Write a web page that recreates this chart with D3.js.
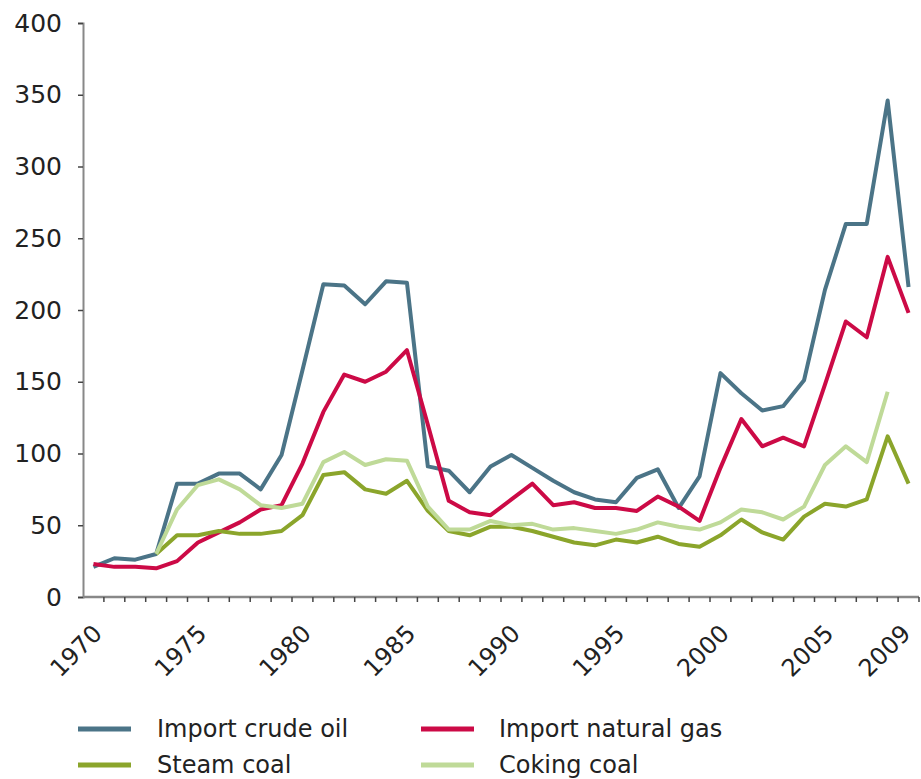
<!DOCTYPE html>
<html>
<head>
<meta charset="utf-8">
<script src="https://cdn.jsdelivr.net/npm/d3@7/dist/d3.min.js"></script>
<style>
  html, body { margin: 0; padding: 0; background: #fff; }
  svg { display: block; }
  text { font-family: "DejaVu Sans", Verdana, sans-serif; fill: #222; }
</style>
</head>
<body>
<svg id="chart" width="921" height="779"></svg>
<script>
const years = d3.range(1970, 2010);
const tickYears = [1970, 1975, 1980, 1985, 1990, 1995, 2000, 2005, 2009];
const yTicks = [0, 50, 100, 150, 200, 250, 300, 350, 400];

const crudeOil = [21, 27, 26, 30, 79, 79, 86, 86, 75, 99,
  158, 218, 217, 204, 220, 219, 91, 88, 73, 91,
  99, 90, 81, 73, 68, 66, 83, 89, 62, 84,
  156, 142, 130, 133, 151, 214, 260, 260, 346, 216];
const naturalGas = [23, 21, 21, 20, 25, 38, 45, 52, 61, 64,
  93, 129, 155, 150, 157, 172, 120, 67, 59, 57,
  68, 79, 64, 66, 62, 62, 60, 70, 63, 53,
  90, 124, 105, 111, 105, 148, 192, 181, 237, 198];
const steamCoal = [null, null, null, 30, 43, 43, 46, 44, 44, 46,
  57, 85, 87, 75, 72, 81, 60, 46, 43, 49,
  49, 46, 42, 38, 36, 40, 38, 42, 37, 35,
  43, 54, 45, 40, 56, 65, 63, 68, 112, 79];
const cokingCoal = [null, null, null, 30, 61, 78, 82, 75, 64, 62,
  65, 94, 101, 92, 96, 95, 63, 47, 47, 53,
  50, 51, 47, 48, 46, 44, 47, 52, 49, 47,
  52, 61, 59, 54, 63, 92, 105, 94, 143, null];

const seriesNames = ["Import crude oil", "Import natural gas", "Steam coal", "Coking coal"];
const seriesColors = ["#4b7487", "#cc0a46", "#8ba52b", "#bfda98"];
const seriesValues = [crudeOil, naturalGas, steamCoal, cokingCoal];

const svg = d3.select("#chart");
const x0 = 83, x1 = 919, yTop = 23, yBot = 597;

const x = d3.scaleBand().domain(years).range([x0, x1]);
const y = d3.scaleLinear().domain([0, 400]).range([yBot, yTop]);

// lines
const line = d3.line()
  .defined(d => d.v != null)
  .x(d => x(d.year) + x.bandwidth() / 2)
  .y(d => y(d.v));

seriesValues.forEach((vals, i) => {
  const data = years.map((yr, j) => ({ year: yr, v: vals[j] }));
  svg.append("path")
    .datum(data)
    .attr("fill", "none")
    .attr("stroke", seriesColors[i])
    .attr("stroke-width", 4)
    .attr("stroke-linejoin", "round")
    .attr("d", line);
});

// y axis
const yAxis = svg.append("g")
  .attr("transform", `translate(${x0},0)`)
  .call(d3.axisLeft(y).tickValues(yTicks).tickSize(5).tickPadding(16));
yAxis.select(".domain").attr("stroke", "#888").attr("stroke-width", 2);
yAxis.selectAll(".tick line").attr("stroke", "#444").attr("stroke-width", 1.5);
yAxis.selectAll(".tick text").style("font-size", "25px").attr("fill", "#222")
  .style("font-family", '"DejaVu Sans", Verdana, sans-serif');

// x axis: ticks at band boundaries
const xAxisG = svg.append("g").attr("transform", `translate(0,${yBot})`);
xAxisG.append("line")
  .attr("x1", x0).attr("x2", x1).attr("y1", 0).attr("y2", 0)
  .attr("stroke", "#888").attr("stroke-width", 2.5);
xAxisG.selectAll("line.tk")
  .data(years.slice(1).concat([null]))
  .enter().append("line")
  .attr("class", "tk")
  .attr("x1", d => d == null ? x1 : x(d)).attr("x2", d => d == null ? x1 : x(d))
  .attr("y1", 0).attr("y2", 5)
  .attr("stroke", "#444").attr("stroke-width", 1.5);

xAxisG.selectAll("text.lbl")
  .data(tickYears)
  .enter().append("text")
  .attr("class", "lbl")
  .attr("text-anchor", "end")
  .attr("transform", d => `translate(${Math.min(x(d) + x.bandwidth() / 2 + 10, 912)},${38}) rotate(-45)`)
  .style("font-size", "24px")
  .text(d => d);

// legend
const legend = svg.append("g");
const legendPos = [
  { sx: 78, tx: 157, y: 729 },
  { sx: 421, tx: 499, y: 729 },
  { sx: 78, tx: 157, y: 765 },
  { sx: 421, tx: 499, y: 765 }
];
seriesNames.forEach((name, i) => {
  const p = legendPos[i];
  legend.append("line")
    .attr("x1", p.sx).attr("x2", p.sx + 53)
    .attr("y1", p.y).attr("y2", p.y)
    .attr("stroke", seriesColors[i]).attr("stroke-width", 5);
  legend.append("text")
    .attr("x", p.tx).attr("y", p.y + 8)
    .style("font-size", "24px")
    .text(name);
});
</script>
</body>
</html>
